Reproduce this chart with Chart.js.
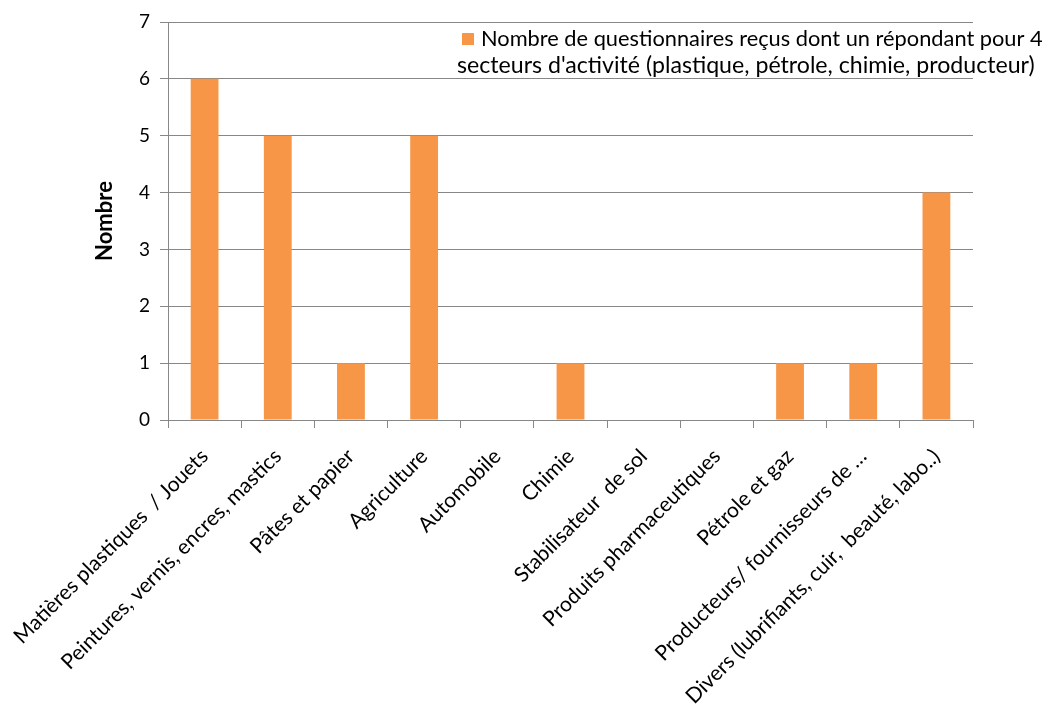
<!DOCTYPE html>
<html>
<head>
<meta charset="utf-8">
<script src="https://cdn.jsdelivr.net/npm/chart.js@4.4.0/dist/chart.umd.min.js"></script>
<style>
  html, body { margin: 0; padding: 0; background: #ffffff; }
  #wrap { width: 1048px; height: 715px; position: relative; }
</style>
</head>
<body>
<div id="wrap"><canvas id="barChart"></canvas></div>
<script>
const categories = [
    'Matières plastiques  / Jouets',
    'Peintures, vernis, encres, mastics',
    'Pâtes et papier',
    'Agriculture',
    'Automobile',
    'Chimie',
    'Stabilisateur  de sol',
    'Produits pharmaceutiques',
    'Pétrole et gaz',
    'Producteurs/ fournisseurs de …',
    'Divers (lubrifiants, cuir,  beauté, labo..)'
];
const counts = [6, 5, 1, 5, 0, 1, 0, 0, 1, 1, 4];
const yTicks = [0, 1, 2, 3, 4, 5, 6, 7];
const seriesLabel = [
    'Nombre de questionnaires reçus dont un répondant pour 4',
    'secteurs d\'activité (plastique, pétrole, chimie, producteur)'
];

const orange = '#F79646';
const grey = '#878787';
const fontFam = 'Lato, "Open Sans", sans-serif';

// legende sur deux lignes, dessinee a la main
const legendPlugin = {
    id: 'twoLineLegend',
    afterDraw(chart) {
        const ctx = chart.ctx;
        ctx.save();
        ctx.fillStyle = orange;
        ctx.fillRect(462, 33, 12, 12);
        ctx.fillStyle = '#000000';
        ctx.textBaseline = 'alphabetic';
        ctx.textAlign = 'left';
        const lines = [[seriesLabel[0], 481, 46, 562], [seriesLabel[1], 457, 73, 578]];
        lines.forEach(([txt, x, y, target]) => {
            ctx.font = '17px ' + fontFam;
            const size = 17 * target / ctx.measureText(txt).width;
            ctx.font = size.toFixed(2) + 'px ' + fontFam;
            ctx.fillText(txt, x, y);
        });
        ctx.restore();
    }
};

new Chart(document.getElementById('barChart'), {
    type: 'bar',
    data: {
        labels: categories,
        datasets: [{
            label: seriesLabel.join(' '),
            data: counts,
            backgroundColor: orange,
            borderWidth: 0,
            barPercentage: 0.38,
            categoryPercentage: 1
        }]
    },
    options: {
        responsive: true,
        maintainAspectRatio: false,
        animation: false,
        layout: { padding: { top: 22, right: 75, left: 0, bottom: 0 } },
        plugins: {
            legend: { display: false },
            tooltip: { enabled: false }
        },
        scales: {
            x: {
                offset: true,
                grid: {
                    offset: true,
                    drawOnChartArea: false,
                    drawTicks: true,
                    tickLength: 8,
                    color: grey
                },
                border: { display: true, color: grey },
                ticks: {
                    autoSkip: false,
                    maxRotation: 45,
                    minRotation: 45,
                    padding: 16,
                    color: '#000000',
                    font: { family: fontFam, size: 21 }
                },
                afterFit: s => {
                    s.height = 295;
                    s.paddingLeft = 0;
                    s.paddingRight = 0;
                }
            },
            y: {
                min: 0,
                max: 7,
                afterBuildTicks: s => { s.ticks = yTicks.map(v => ({ value: v })); },
                grid: {
                    color: grey,
                    tickLength: 8,
                    drawTicks: true
                },
                border: { display: true, color: grey },
                ticks: {
                    padding: 10,
                    color: '#000000',
                    font: { family: fontFam, size: 19 }
                },
                title: {
                    display: true,
                    text: 'Nombre',
                    color: '#000000',
                    font: { family: fontFam, size: 22, weight: 'bold' },
                    padding: { top: 92, bottom: 0 }
                },
                afterFit: s => { s.width = 168; }
            }
        }
    },
    plugins: [legendPlugin]
});
</script>
</body>
</html>
